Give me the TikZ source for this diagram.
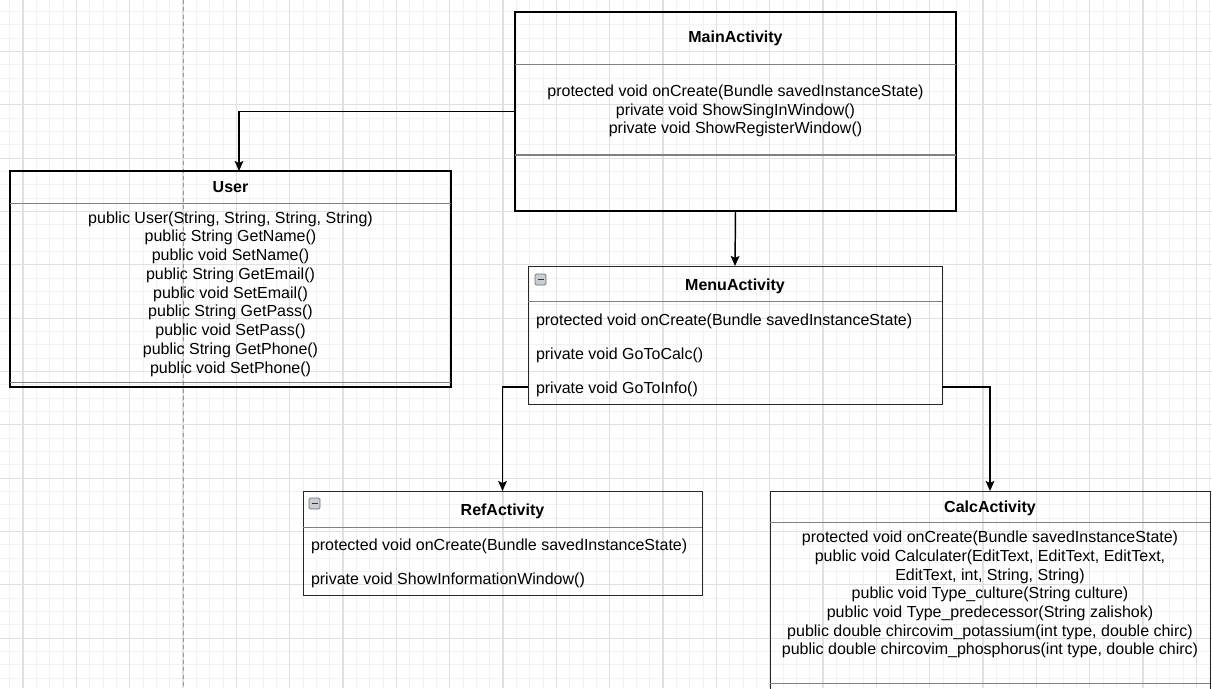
\documentclass[tikz,border=0pt]{standalone}
\usepackage{fontspec}
\setmainfont{Liberation Sans}
\usetikzlibrary{fit,arrows.meta}

\definecolor{gridminor}{HTML}{F2F2F2}
\definecolor{gridmajor}{HTML}{E0E0E0}
\definecolor{sepgray}{HTML}{808080}
\definecolor{iconfill}{HTML}{C9CED4}
\definecolor{icondraw}{HTML}{6A6F75}

\begin{document}
\begin{tikzpicture}[x=0.75pt,y=-0.75pt,
  every node/.style={font=\fontsize{12pt}{14pt}\selectfont, inner sep=0pt, outer sep=0pt},
  classbox/.style={draw=black!85, line width=0.75pt, inner sep=0pt},
  heavybox/.style={draw=black, line width=1.5pt, inner sep=0pt},
  sepline/.style={draw=sepgray, line width=0.75pt},
  title/.style={font=\fontsize{12pt}{14pt}\selectfont\bfseries, anchor=base},
  member/.style={anchor=base},
  memberL/.style={anchor=base west},
  link/.style={draw=black, line width=1.1pt, -{Stealth[length=7.5pt,width=6.5pt,inset=1.5pt]}},
  minorline/.style={draw=gridminor, line width=0.75pt},
  majorline/.style={draw=gridmajor, line width=0.9pt},
  guide/.style={draw=black!40, line width=0.75pt, dash pattern=on 3pt off 2.5pt},
  collapse/.style={fill=iconfill, draw=icondraw, line width=0.6pt, rounded corners=1pt}
]
\useasboundingbox (0,0) rectangle (1212,688);
\clip (0,0) rectangle (1212,688);
\fill[white] (0,0) rectangle (1212,688);

% background grid
\foreach \k in {0,...,90} {
  \pgfmathsetmacro\gx{9.667+13.3333*\k}
  \draw[minorline] (\gx,0) -- (\gx,688);
}
\foreach \k in {0,...,51} {
  \pgfmathsetmacro\gy{11.5+13.3333*\k}
  \draw[minorline] (0,\gy) -- (1212,\gy);
}
\foreach \k in {0,...,22} {
  \pgfmathsetmacro\gx{23+53.3333*\k}
  \draw[majorline] (\gx,0) -- (\gx,688);
}
\foreach \k in {-1,...,12} {
  \pgfmathsetmacro\gy{51.5+53.3333*\k}
  \draw[majorline] (0,\gy) -- (1212,\gy);
}
\draw[guide] (183,0) -- (183,688);

% MainActivity
\node[heavybox, fit={(515,12) (956,211)}] (main) {};
\draw[sepline] (515,65) -- (956,65);
\draw[sepline] (515,155) -- (956,155);
\node[title] (main-t) at (735.5,43) {MainActivity};
\foreach \txt [count=\i] in {{protected void onCreate(Bundle savedInstanceState)},
    {private void ShowSingInWindow()}, {private void ShowRegisterWindow()}}
  \node[member] (main-m\i) at (735.5,{97+18.5*(\i-1)}) {\txt};

% User
\node[heavybox, fit={(10,171) (451,387)}] (user) {};
\draw[sepline] (10,203) -- (451,203);
\draw[sepline] (10,382) -- (451,382);
\node[title] (user-t) at (230.5,192) {User};
\foreach \txt [count=\i] in {{public User(String, String, String, String)},
    {public String GetName()}, {public void SetName()},
    {public String GetEmail()}, {public void SetEmail()},
    {public String GetPass()}, {public void SetPass()},
    {public String GetPhone()}, {public void SetPhone()}}
  \node[member] (user-m\i) at (230.5,{223+18.75*(\i-1)}) {\txt};

% MenuActivity
\node[classbox, fit={(528,266) (942,404)}] (menu) {};
\draw[sepline] (528,301) -- (942,301);
\draw[collapse] (535,274) rectangle (546,285);
\draw[draw=black!80, line width=0.9pt] (537.5,279.5) -- (543.5,279.5);
\node[title] (menu-t) at (735,290) {MenuActivity};
\foreach \txt [count=\i] in {{protected void onCreate(Bundle savedInstanceState)},
    {private void GoToCalc()}, {private void GoToInfo()}}
  \node[memberL] (menu-m\i) at (536,{325+34.2*(\i-1)}) {\txt};

% RefActivity
\node[classbox, fit={(303,491) (702,595)}] (ref) {};
\draw[sepline] (303,527) -- (702,527);
\draw[collapse] (309,498) rectangle (320,509);
\draw[draw=black!80, line width=0.9pt] (311.5,503.5) -- (317.5,503.5);
\node[title] (ref-t) at (502.5,515) {RefActivity};
\foreach \txt [count=\i] in {{protected void onCreate(Bundle savedInstanceState)},
    {private void ShowInformationWindow()}}
  \node[memberL] (ref-m\i) at (311,{550+34.3*(\i-1)}) {\txt};

% CalcActivity
\node[classbox, fit={(770,491) (1210,720)}] (calc) {};
\draw[sepline] (770,522) -- (1210,522);
\draw[sepline] (770,683) -- (1210,683);
\node[title] (calc-t) at (990,512.5) {CalcActivity};
\foreach \txt [count=\i] in {{protected void onCreate(Bundle savedInstanceState)},
    {public void Calculater(EditText, EditText, EditText,},
    {EditText, int, String, String)},
    {public void Type\_culture(String culture)},
    {public void Type\_predecessor(String zalishok)},
    {public double chircovim\_potassium(int type, double chirc)},
    {public double chircovim\_phosphorus(int type, double chirc)}}
  \node[member] (calc-m\i) at (990,{542.7+18.7*(\i-1)}) {\txt};

% connectors
\coordinate (user-in) at (239,171);
\coordinate (menu-row) at (0,387);
\draw[link] (main.west) -| (user-in);
\draw[link] (main.south) -- (menu.north);
\draw[link] (menu.west |- menu-row) -| (ref.north);
\draw[link] (menu.east |- menu-row) -| (calc.north);
\end{tikzpicture}
\end{document}
